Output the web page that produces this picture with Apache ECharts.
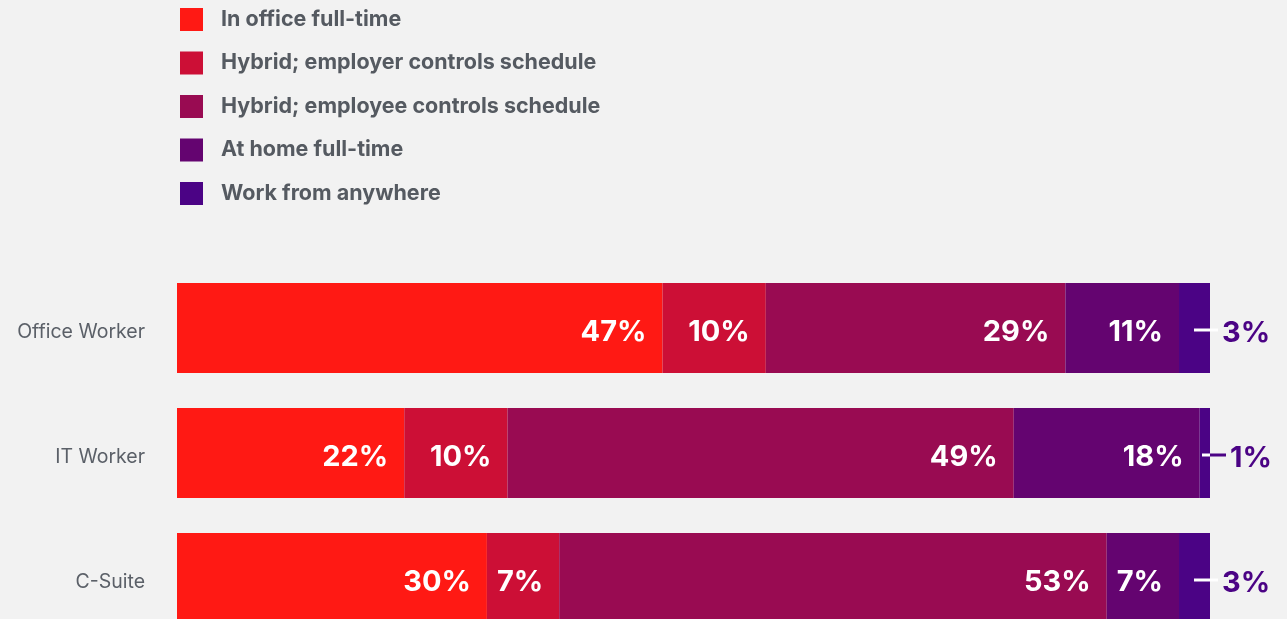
<!DOCTYPE html>
<html>
<head>
<meta charset="utf-8">
<script src="https://cdn.jsdelivr.net/npm/echarts@6/dist/echarts.min.js"></script>
<style>
  html, body { margin: 0; padding: 0; background: #f2f2f2; overflow: hidden; }
  #main { width: 1287px; height: 700px; }
</style>
</head>
<body>
<div id="main"></div>
<script>
var categories = ['Office Worker', 'IT Worker', 'C-Suite'];
var seriesNames = ['In office full-time', 'Hybrid; employer controls schedule', 'Hybrid; employee controls schedule', 'At home full-time', 'Work from anywhere'];
var inOffice = [47, 22, 30];
var hybridEmployer = [10, 10, 7];
var hybridEmployee = [29, 49, 53];
var atHome = [11, 18, 7];
var anywhere = [3, 1, 3];
var colors = ['#ff1914', '#cc0f36', '#990b52', '#640470', '#4b0385'];

// the chart box is taller than the window: the last bar is cut by the page edge
var myChart = echarts.init(document.getElementById('main'));

var insideLabel = {
    show: true,
    position: 'insideRight',
    distance: 16,
    offset: [0, 4],
    color: '#ffffff',
    fontFamily: 'Inter',
    fontWeight: 'bold',
    fontSize: 29,
    formatter: '{c}%'
};

function makeSeries(i, values) {
    return {
        name: seriesNames[i],
        type: 'bar',
        stack: 'total',
        barCategoryGap: '28%',
        itemStyle: { color: colors[i] },
        label: insideLabel,
        data: values
    };
}

// last segment: label sits outside, with a small tick line
var anywhereData = anywhere.map(function (v) {
    var inner = v < 2 ? 8 : 16;
    return {
        value: v,
        label: {
            show: true,
            position: 'right',
            distance: 0,
            offset: [-inner, 2],
            formatter: '{w|}{p|}{v|' + v + '%}',
            rich: {
                w: { width: inner, height: 3, backgroundColor: '#ffffff' },
                p: { width: 24 - inner, height: 3, backgroundColor: v < 2 ? '#4b0385' : '#ffffff' },
                v: {
                    color: '#4b0385',
                    fontFamily: 'Inter',
                    fontWeight: 'bold',
                    fontSize: 29,
                    padding: [7, 0, 0, 4]
                }
            }
        }
    };
});

var option = {
    backgroundColor: '#f2f2f2',
    animation: false,
    color: colors,
    legend: {
        orient: 'vertical',
        left: 180,
        top: 8,
        padding: 0,
        itemWidth: 23,
        itemHeight: 23,
        itemGap: 20.5,
        icon: 'rect',
        textStyle: {
            color: '#555a61',
            fontFamily: 'Inter',
            fontWeight: 'bold',
            fontSize: 21.5,
            lineHeight: 23,
            padding: [0, 0, 0, 13]
        },
        data: seriesNames
    },
    grid: {
        left: 177,
        right: 77,
        top: 265.5,
        height: 375
    },
    xAxis: {
        type: 'value',
        min: 0,
        max: 100,
        show: false
    },
    yAxis: {
        type: 'category',
        inverse: true,
        data: categories,
        axisLine: { show: false },
        axisTick: { show: false },
        axisLabel: {
            margin: 32,
            formatter: '{a|{value}}',
            rich: {
                a: {
                    color: '#5b6068',
                    fontFamily: 'Inter',
                    fontSize: 19.5,
                    padding: [8, 0, 0, 0]
                }
            }
        }
    },
    series: [
        makeSeries(0, inOffice),
        makeSeries(1, hybridEmployer),
        makeSeries(2, hybridEmployee),
        makeSeries(3, atHome),
        {
            name: seriesNames[4],
            type: 'bar',
            stack: 'total',
            barCategoryGap: '28%',
            itemStyle: { color: colors[4] },
            data: anywhereData
        }
    ]
};

myChart.setOption(option);
</script>
</body>
</html>
